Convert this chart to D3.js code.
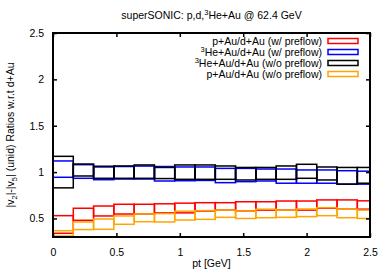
<!DOCTYPE html>
<html><head><meta charset="utf-8">
<script src="https://cdn.jsdelivr.net/npm/d3@7"></script>
<style>body{margin:0;background:#fff;}svg{display:block;font-family:"Liberation Sans",Arial,sans-serif;}</style>
</head><body>
<svg id="c" width="390" height="273"></svg>
<script>
const binLo = [0,0.16,0.32,0.48,0.64,0.80,0.96,1.12,1.28,1.44,1.60,1.76,1.92,2.08,2.24,2.40];
const binWidth = 0.16;
const seriesNames = ["p+Au/d+Au (w/ preflow)","³He+Au/d+Au (w/ preflow)","³He+Au/d+Au (w/o preflow)","p+Au/d+Au (w/o preflow)"];
const seriesColors = ["#ff0000","#0000ff","#000000","#ffa500"];
const redHi = [0.53,0.61,0.634,0.653,0.653,0.658,0.665,0.67,0.67,0.68,0.68,0.688,0.688,0.70,0.70,0.69];
const redLo = [0.34,0.48,0.527,0.548,0.548,0.56,0.56,0.58,0.59,0.58,0.59,0.59,0.59,0.61,0.60,0.60];
const blueHi = [1.12,1.08,1.055,1.06,1.065,1.06,1.055,1.055,1.04,1.04,1.033,1.033,1.023,1.023,1.015,1.01];
const blueLo = [0.944,0.933,0.918,0.925,0.925,0.904,0.907,0.91,0.886,0.897,0.904,0.88,0.88,0.88,0.87,0.87];
const blackHi = [1.17,1.087,1.063,1.066,1.077,1.05,1.077,1.077,1.066,1.05,1.05,1.066,1.084,1.055,1.05,1.05];
const blackLo = [0.83,0.958,0.933,0.933,0.933,0.93,0.922,0.922,0.922,0.915,0.922,0.922,0.933,0.915,0.87,0.88];
const orangeHi = [0.368,0.462,0.494,0.527,0.548,0.552,0.578,0.585,0.59,0.58,0.60,0.59,0.602,0.616,0.60,0.59];
const orangeLo = [0.31,0.38,0.383,0.437,0.465,0.462,0.483,0.49,0.512,0.50,0.508,0.512,0.52,0.53,0.508,0.50];
const xTicks = [0,0.5,1,1.5,2,2.5];
const yTicks = [0.5,1,1.5,2,2.5];
const xDomain = [0,2.5], yDomain = [0.3,2.5];

const series = [
  {lo: redLo, hi: redHi},
  {lo: blueLo, hi: blueHi},
  {lo: blackLo, hi: blackHi},
  {lo: orangeLo, hi: orangeHi}
];

const svg = d3.select("#c");
const L = 53, R = 370, T = 33, B = 237;
const x = d3.scaleLinear().domain(xDomain).range([L, R]);
const y = d3.scaleLinear().domain(yDomain).range([B, T]);

svg.append("defs").append("clipPath").attr("id","clip")
  .append("rect").attr("x",L).attr("y",T).attr("width",R-L).attr("height",B-T);

const g = svg.append("g").attr("clip-path","url(#clip)");
series.forEach((s,i)=>{
  g.selectAll(null).data(binLo).enter().append("rect")
    .attr("x", d=>x(d))
    .attr("width", d=>x(d+binWidth)-x(d))
    .attr("y", (d,j)=>y(s.hi[j]))
    .attr("height", (d,j)=>y(s.lo[j])-y(s.hi[j]))
    .attr("fill","none").attr("stroke",seriesColors[i]).attr("stroke-width",1.5);
});

const xb = d3.axisBottom(x).tickValues(xTicks).tickSize(-4).tickPadding(12).tickFormat(d3.format("~g"));
const xt = d3.axisTop(x).tickValues(xTicks).tickSize(-4).tickFormat("");
const yl = d3.axisLeft(y).tickValues(yTicks).tickSize(-4).tickPadding(9).tickFormat(d3.format("~g"));
const yr = d3.axisRight(y).tickValues(yTicks).tickSize(-4).tickFormat("");
function style(sel){ sel.select(".domain").remove(); sel.selectAll(".tick line").attr("stroke","#000").attr("stroke-width",1.5); sel.selectAll("text").attr("font-size","10.5px").attr("font-family","Liberation Sans, Arial, sans-serif").attr("fill","#000"); }
svg.append("g").attr("transform",`translate(0,${B})`).call(xb).call(style);
svg.append("g").attr("transform",`translate(0,${T})`).call(xt).call(style);
svg.append("g").attr("transform",`translate(${L},0)`).call(yl).call(style);
svg.append("g").attr("transform",`translate(${R},0)`).call(yr).call(style);

svg.append("rect").attr("x",L).attr("y",T).attr("width",R-L).attr("height",B-T)
  .attr("fill","none").attr("stroke","#000").attr("stroke-width",2);

const title = svg.append("text").attr("x",(L+R)/2).attr("y",19).attr("text-anchor","middle").attr("font-size","10.5px");
title.append("tspan").text("superSONIC: p,d,");
title.append("tspan").attr("font-size","7.5px").attr("dy",-4).text("3");
title.append("tspan").attr("dy",4).text("He+Au @ 62.4 GeV");

svg.append("text").attr("x",(L+R)/2).attr("y",267).attr("text-anchor","middle").attr("font-size","10.5px").text("pt [GeV]");

const yl2 = svg.append("text").attr("transform",`translate(14,${(T+B)/2}) rotate(-90)`).attr("text-anchor","middle").attr("font-size","10.5px");
yl2.append("tspan").text("|v");
yl2.append("tspan").attr("font-size","7.5px").attr("dy",3).text("2");
yl2.append("tspan").attr("dy",-3).text("|-|v");
yl2.append("tspan").attr("font-size","7.5px").attr("dy",3).text("5");
yl2.append("tspan").attr("dy",-3).text("| (unid) Ratios w.r.t d+Au");

const legY = [41,52,63,74];
seriesNames.forEach((n,i)=>{
  const t = svg.append("text").attr("x",322).attr("y",legY[i]+4).attr("text-anchor","end").attr("font-size","10.5px");
  if (n.startsWith("³")) {
    t.append("tspan").attr("font-size","7.5px").attr("dy",-4).text("3");
    t.append("tspan").attr("dy",4).text(n.slice(1));
  } else t.text(n);
  svg.append("rect").attr("x",328).attr("y",legY[i]-2.5).attr("width",30).attr("height",5)
    .attr("fill","none").attr("stroke",seriesColors[i]).attr("stroke-width",1.5);
});
</script>
</body></html>
